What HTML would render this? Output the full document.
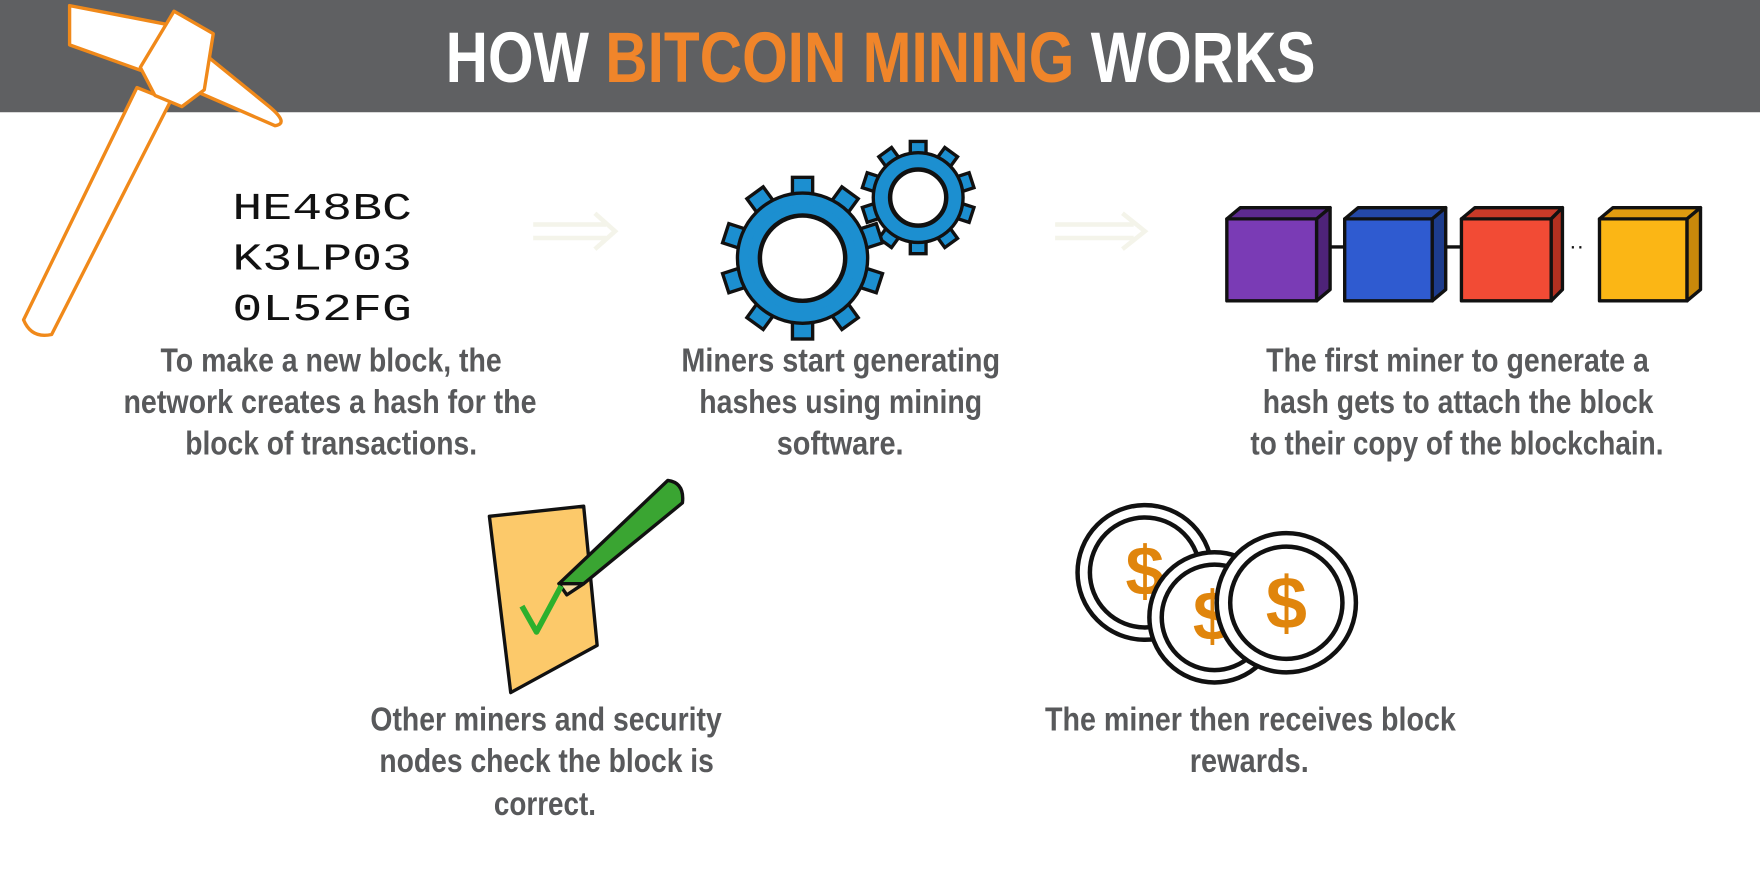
<!DOCTYPE html>
<html><head><meta charset="utf-8"><style>
html,body{margin:0;padding:0;background:#fff;}
svg{display:block;}
.cap{font-family:"Liberation Sans Narrow","Liberation Sans",sans-serif;font-weight:bold;font-size:30px;fill:#58595b;}
.hash{font-family:"Liberation Mono",monospace;font-size:34px;fill:#111;}
</style></head><body>
<svg id="s" width="1760" height="880" viewBox="0 0 1568 784" xmlns="http://www.w3.org/2000/svg">
<rect x="0" y="0" width="1568" height="784" fill="#fff"/>
<rect x="0" y="0" width="1568" height="100" fill="#5f6062"/>
<text x="397" y="73" textLength="775" lengthAdjust="spacingAndGlyphs" font-family="Liberation Sans Narrow, Liberation Sans, sans-serif" font-weight="bold" font-size="64" fill="#fff">HOW <tspan fill="#f0852a">BITCOIN MINING</tspan> WORKS</text>

<g stroke="#f0891a" stroke-width="3" fill="#fff" stroke-linejoin="round">
<path d="M122,78 L152,90 L46,298 Q28,302 21,285 Z"/>
<path d="M62,5 L150,22 L240,95 Q258,110 245,112 L160,75 L62,40 Z"/>
<path d="M155,10 L190,30 L182,80 L162,95 L138,85 L125,60 Z"/>
</g>

<g>
<text class="hash" x="207" y="195" textLength="160" lengthAdjust="spacingAndGlyphs">HE48BC</text>
<text class="hash" x="207" y="240" textLength="160" lengthAdjust="spacingAndGlyphs">K3LP03</text>
<text class="hash" x="207" y="285" textLength="160" lengthAdjust="spacingAndGlyphs">0L52FG</text>
</g>
<g stroke="#f4f4ea" stroke-width="4" fill="none">
<path d="M475,200 H540 M475,212 H540 M530,190 L548,206 L530,222"/>
<path d="M940,200 H1010 M940,212 H1010 M1000,190 L1020,206 L1000,222"/>
</g>

<g id="gears"></g>

<g stroke="#111" stroke-width="3" stroke-linejoin="round">
<line x1="1180" y1="220" x2="1200" y2="220"/>
<line x1="1285" y1="220" x2="1305" y2="220"/>
<text x="1398" y="226" font-size="20" fill="#111" stroke="none" font-family="Liberation Sans, sans-serif">··</text>
<g><rect x="1093" y="195" width="80" height="73" fill="#7a3bb5"/><path d="M1093,195 L1105,185 L1185,185 L1173,195 Z" fill="#5d2a8f"/><path d="M1173,195 L1185,185 L1185,258 L1173,268 Z" fill="#4e2378"/></g>
<g><rect x="1198" y="195" width="78" height="73" fill="#2f5bd0"/><path d="M1198,195 L1210,185 L1288,185 L1276,195 Z" fill="#2448a8"/><path d="M1276,195 L1288,185 L1288,258 L1276,268 Z" fill="#1d3c8c"/></g>
<g><rect x="1302" y="195" width="80" height="73" fill="#f24b35"/><path d="M1302,195 L1314,185 L1392,185 L1382,195 Z" fill="#c93a28"/><path d="M1382,195 L1392,185 L1392,258 L1382,268 Z" fill="#b13020"/></g>
<g><rect x="1425" y="195" width="78" height="73" fill="#fbb615"/><path d="M1425,195 L1437,185 L1515,185 L1503,195 Z" fill="#e09b10"/><path d="M1503,195 L1515,185 L1515,258 L1503,268 Z" fill="#c8880b"/></g>
</g>

<g stroke="#111" stroke-width="3" stroke-linejoin="round">
<path d="M436,460 L520,451 L532,575 L455,617 Z" fill="#fcc96a"/>
<path d="M498,520 L595,428 Q610,430 608,448 L520,520 Z" fill="#3aa532"/>
<path d="M498,520 L520,520 L505,530 Z" fill="#f5d9a0"/>
<path d="M465,540 L478,563 L500,522" fill="none" stroke="#2db02d" stroke-width="5"/>
</g>

<g>
<g><circle cx="1020" cy="510" r="60" fill="#fff" stroke="#111" stroke-width="4"/><circle cx="1020" cy="510" r="49" fill="#fff" stroke="#111" stroke-width="4"/><text x="1020" y="530" text-anchor="middle" font-family="Liberation Sans, sans-serif" font-weight="bold" font-size="62" fill="#e0850c">$</text></g>
<g><circle cx="1082" cy="550" r="58" fill="#fff" stroke="#111" stroke-width="4"/><circle cx="1082" cy="550" r="47" fill="#fff" stroke="#111" stroke-width="4"/><text x="1080" y="570" text-anchor="middle" font-family="Liberation Sans, sans-serif" font-weight="bold" font-size="62" fill="#e0850c">$</text></g>
<g><circle cx="1146" cy="537" r="62" fill="#fff" stroke="#111" stroke-width="4"/><circle cx="1146" cy="537" r="50" fill="#fff" stroke="#111" stroke-width="4"/><text x="1146" y="560" text-anchor="middle" font-family="Liberation Sans, sans-serif" font-weight="bold" font-size="66" fill="#e0850c">$</text></g>
</g>

<g>
<text class="cap" x="143" y="331" textLength="304" lengthAdjust="spacingAndGlyphs">To make a new block, the</text>
<text class="cap" x="110" y="368" textLength="368" lengthAdjust="spacingAndGlyphs">network creates a hash for the</text>
<text class="cap" x="165" y="405" textLength="260" lengthAdjust="spacingAndGlyphs">block of transactions.</text>
</g>
<g>
<text class="cap" x="607" y="331" textLength="284" lengthAdjust="spacingAndGlyphs">Miners start generating</text>
<text class="cap" x="623" y="368" textLength="252" lengthAdjust="spacingAndGlyphs">hashes using mining</text>
<text class="cap" x="692" y="405" textLength="113" lengthAdjust="spacingAndGlyphs">software.</text>
</g>
<g>
<text class="cap" x="1128" y="331" textLength="341" lengthAdjust="spacingAndGlyphs">The first miner to generate a</text>
<text class="cap" x="1125" y="368" textLength="348" lengthAdjust="spacingAndGlyphs">hash gets to attach the block</text>
<text class="cap" x="1114" y="405" textLength="368" lengthAdjust="spacingAndGlyphs">to their copy of the blockchain.</text>
</g>
<g>
<text class="cap" x="330" y="651" textLength="313" lengthAdjust="spacingAndGlyphs">Other miners and security</text>
<text class="cap" x="338" y="688" textLength="298" lengthAdjust="spacingAndGlyphs">nodes check the block is</text>
<text class="cap" x="440" y="726" textLength="91" lengthAdjust="spacingAndGlyphs">correct.</text>
</g>
<g>
<text class="cap" x="931" y="651" textLength="366" lengthAdjust="spacingAndGlyphs">The miner then receives block</text>
<text class="cap" x="1060" y="688" textLength="106" lengthAdjust="spacingAndGlyphs">rewards.</text>
</g>
</svg>
<script>
var NS="http://www.w3.org/2000/svg";
var g=document.getElementById('gears');
function gear(cx,cy,r,hole,teeth,tw,th,name){
  var grp=document.createElementNS(NS,'g');
  
  
  for(var i=0;i<teeth;i++){
    var t=document.createElementNS(NS,'rect');
    t.setAttribute('x',cx-tw/2);t.setAttribute('y',cy-r-th);
    t.setAttribute('width',tw);t.setAttribute('height',th+6);
    t.setAttribute('fill','#1c8fd0');t.setAttribute('stroke','#111');t.setAttribute('stroke-width','3');
    t.setAttribute('transform','rotate('+(360*i/teeth)+' '+cx+' '+cy+')');
    grp.appendChild(t);
  }
  var c=document.createElementNS(NS,'circle');
  c.setAttribute('cx',cx);c.setAttribute('cy',cy);c.setAttribute('r',r);
  c.setAttribute('fill','#1c8fd0');c.setAttribute('stroke','#111');c.setAttribute('stroke-width','3');
  grp.appendChild(c);
  var c2=document.createElementNS(NS,'circle');
  c2.setAttribute('cx',cx);c2.setAttribute('cy',cy);c2.setAttribute('r',r-10);
  c2.setAttribute('fill','#1c8fd0');
  grp.appendChild(c2);
  var h=document.createElementNS(NS,'circle');
  h.setAttribute('cx',cx);h.setAttribute('cy',cy);h.setAttribute('r',hole);
  h.setAttribute('fill','#fff');h.setAttribute('stroke','#111');h.setAttribute('stroke-width','4');
  grp.appendChild(h);
  g.appendChild(grp);
}
gear(818,176,40,25,10,14,10,'small-gear');
gear(715,230,58,38,10,18,14,'large-gear');
</script>
</body></html>
